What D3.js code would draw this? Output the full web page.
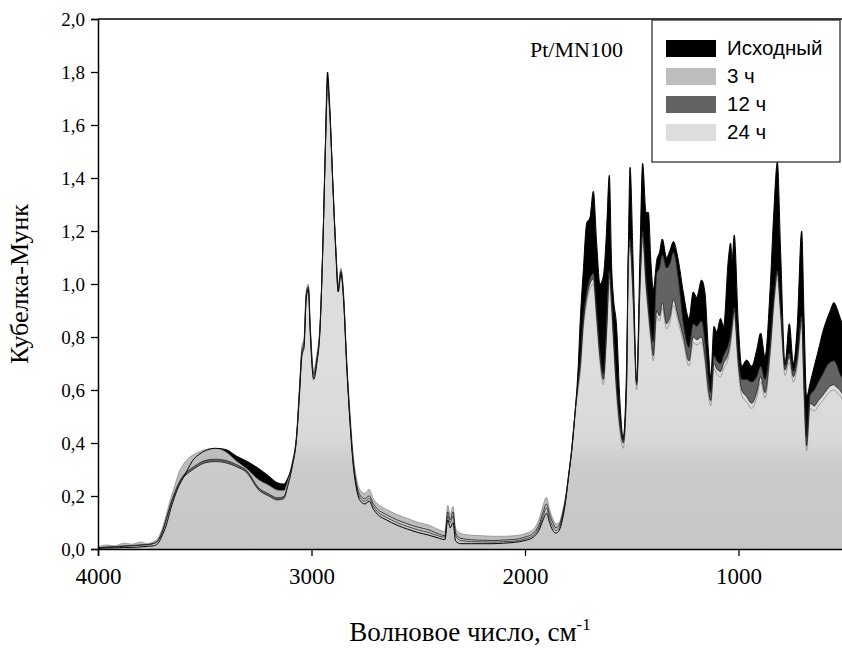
<!DOCTYPE html>
<html>
<head>
<meta charset="utf-8">
<script src="https://d3js.org/d3.v7.min.js"></script>
<style>
  body { margin: 0; background: #fff; }
  svg { display: block; }
</style>
</head>
<body>
<script>
// волновое число, см-1 (общая сетка для всех спектров)
var wavenumber = [
  4000, 3960, 3920, 3880, 3840, 3800, 3770, 3740, 3720, 3700,
  3680, 3660, 3640, 3620, 3600, 3580, 3560, 3530, 3500, 3450,
  3400, 3350, 3300, 3250, 3200, 3160, 3130, 3110, 3090, 3070,
  3055, 3045, 3035, 3025, 3015, 3005, 2990, 2975, 2960, 2945,
  2935, 2925, 2915, 2900, 2885, 2875, 2862, 2850, 2835, 2820,
  2805, 2790, 2770, 2750, 2730, 2710, 2690, 2650, 2600, 2550,
  2500, 2450, 2400, 2375, 2362, 2350, 2337, 2325, 2300, 2250,
  2200, 2150, 2100, 2050, 2000, 1960, 1935, 1915, 1900, 1885,
  1870, 1855, 1840, 1825, 1810, 1795, 1781, 1765, 1750, 1742,
  1727, 1711, 1696, 1680, 1664, 1649, 1633, 1618, 1605, 1594,
  1586, 1571, 1555, 1540, 1524, 1516, 1508, 1493, 1477, 1461,
  1449, 1433, 1422, 1410, 1399, 1383, 1370, 1357, 1337, 1320,
  1305, 1282, 1258, 1232, 1212, 1196, 1173, 1157, 1141, 1130,
  1115, 1102, 1084, 1070, 1048, 1037, 1030, 1020, 1001, 985,
  962, 938, 915, 896, 876, 852, 834, 818, 803, 782,
  762, 743, 725, 704, 693, 681, 665, 645, 626, 605,
  587, 570, 553, 540, 525, 510
];

// Исходный
var ishodny = [
  0.002, 0.004, 0.004, 0.006, 0.006, 0.008, 0.010, 0.012, 0.020, 0.050,
  0.090, 0.150, 0.200, 0.240, 0.270, 0.300, 0.330, 0.355, 0.370, 0.380,
  0.375, 0.350, 0.330, 0.305, 0.275, 0.250, 0.245, 0.270, 0.320, 0.420,
  0.600, 0.730, 0.760, 0.940, 0.980, 0.800, 0.640, 0.700, 0.830, 1.200,
  1.520, 1.800, 1.680, 1.380, 1.100, 0.970, 1.040, 0.940, 0.690, 0.480,
  0.320, 0.230, 0.180, 0.170, 0.180, 0.150, 0.130, 0.110, 0.090, 0.075,
  0.062, 0.052, 0.040, 0.035, 0.110, 0.080, 0.100, 0.030, 0.020, 0.020,
  0.020, 0.020, 0.022, 0.025, 0.032, 0.045, 0.070, 0.110, 0.135, 0.100,
  0.070, 0.060, 0.070, 0.110, 0.180, 0.280, 0.370, 0.520, 0.700, 0.850,
  1.050, 1.230, 1.250, 1.350, 1.150, 1.000, 1.030, 1.200, 1.410, 1.060,
  0.950, 0.840, 0.550, 0.420, 0.700, 1.130, 1.440, 1.065, 0.630, 1.130,
  1.455, 1.270, 1.270, 1.080, 0.980, 1.090, 1.120, 1.170, 1.100, 1.130,
  1.160, 1.090, 0.966, 0.870, 0.970, 0.950, 1.015, 0.966, 0.750, 0.650,
  0.840, 0.820, 0.870, 0.840, 1.090, 1.155, 1.090, 1.185, 0.850, 0.690,
  0.713, 0.690, 0.750, 0.815, 0.725, 0.980, 1.280, 1.460, 1.130, 0.700,
  0.850, 0.700, 0.840, 1.200, 0.875, 0.575, 0.625, 0.690, 0.750, 0.820,
  0.865, 0.900, 0.930, 0.910, 0.875, 0.840
];

// 3 ч
var h3 = [
  0.008, 0.015, 0.012, 0.022, 0.018, 0.026, 0.020, 0.028, 0.040, 0.075,
  0.130, 0.190, 0.240, 0.290, 0.320, 0.340, 0.352, 0.365, 0.375, 0.380,
  0.365, 0.330, 0.300, 0.262, 0.240, 0.222, 0.220, 0.258, 0.330, 0.435,
  0.635, 0.765, 0.795, 0.975, 1.000, 0.835, 0.675, 0.735, 0.855, 1.200,
  1.500, 1.720, 1.640, 1.370, 1.120, 1.000, 1.060, 0.970, 0.720, 0.520,
  0.360, 0.270, 0.220, 0.210, 0.225, 0.190, 0.170, 0.150, 0.130, 0.115,
  0.100, 0.090, 0.072, 0.066, 0.165, 0.130, 0.160, 0.078, 0.058, 0.052,
  0.050, 0.048, 0.048, 0.050, 0.058, 0.075, 0.110, 0.165, 0.195, 0.150,
  0.115, 0.095, 0.100, 0.140, 0.200, 0.290, 0.380, 0.510, 0.610, 0.660,
  0.830, 0.930, 0.980, 1.000, 0.855, 0.705, 0.620, 0.800, 1.010, 0.900,
  0.780, 0.580, 0.440, 0.380, 0.600, 1.080, 1.130, 0.920, 0.600, 0.980,
  1.165, 0.980, 0.880, 0.780, 0.710, 0.880, 0.860, 0.910, 0.830, 0.860,
  0.920, 0.855, 0.780, 0.690, 0.780, 0.770, 0.780, 0.705, 0.580, 0.540,
  0.680, 0.660, 0.650, 0.680, 0.720, 0.770, 0.820, 0.880, 0.680, 0.580,
  0.555, 0.530, 0.570, 0.630, 0.570, 0.730, 0.920, 1.020, 0.880, 0.655,
  0.705, 0.630, 0.690, 0.845, 0.580, 0.370, 0.530, 0.520, 0.540, 0.560,
  0.580, 0.595, 0.600, 0.590, 0.580, 0.560
];

// 12 ч
var h12 = [
  0.005, 0.008, 0.009, 0.012, 0.013, 0.016, 0.017, 0.022, 0.032, 0.065,
  0.115, 0.170, 0.215, 0.252, 0.278, 0.294, 0.306, 0.322, 0.334, 0.339,
  0.334, 0.318, 0.293, 0.233, 0.208, 0.193, 0.198, 0.245, 0.315, 0.425,
  0.610, 0.740, 0.770, 0.950, 0.985, 0.810, 0.650, 0.710, 0.835, 1.190,
  1.510, 1.760, 1.660, 1.370, 1.110, 0.975, 1.045, 0.950, 0.695, 0.490,
  0.330, 0.240, 0.190, 0.180, 0.190, 0.160, 0.140, 0.120, 0.100, 0.085,
  0.072, 0.062, 0.048, 0.045, 0.125, 0.100, 0.125, 0.050, 0.032, 0.028,
  0.027, 0.026, 0.028, 0.030, 0.038, 0.052, 0.080, 0.125, 0.155, 0.115,
  0.085, 0.070, 0.080, 0.120, 0.185, 0.280, 0.375, 0.520, 0.640, 0.700,
  0.870, 0.970, 1.020, 1.040, 0.895, 0.745, 0.660, 0.840, 1.050, 0.940,
  0.820, 0.620, 0.480, 0.410, 0.640, 1.120, 1.170, 0.960, 0.630, 1.020,
  1.200, 1.020, 0.920, 0.820, 0.780, 1.040, 1.060, 1.110, 1.060, 1.080,
  1.120, 1.020, 0.850, 0.760, 0.850, 0.840, 0.860, 0.780, 0.640, 0.590,
  0.730, 0.710, 0.700, 0.730, 0.770, 0.810, 0.850, 0.910, 0.720, 0.640,
  0.640, 0.630, 0.650, 0.690, 0.640, 0.770, 0.950, 1.050, 0.910, 0.690,
  0.740, 0.670, 0.730, 0.880, 0.620, 0.420, 0.580, 0.600, 0.630, 0.660,
  0.690, 0.705, 0.710, 0.695, 0.660, 0.640
];

// 24 ч
var h24 = [
  0.004, 0.006, 0.008, 0.010, 0.012, 0.014, 0.016, 0.020, 0.030, 0.060,
  0.110, 0.165, 0.210, 0.245, 0.270, 0.285, 0.297, 0.313, 0.325, 0.330,
  0.325, 0.310, 0.285, 0.225, 0.200, 0.185, 0.190, 0.240, 0.310, 0.420,
  0.620, 0.750, 0.780, 0.960, 0.990, 0.820, 0.660, 0.720, 0.840, 1.200,
  1.520, 1.750, 1.660, 1.380, 1.120, 0.980, 1.050, 0.960, 0.700, 0.500,
  0.340, 0.250, 0.200, 0.190, 0.200, 0.170, 0.150, 0.130, 0.110, 0.095,
  0.082, 0.072, 0.055, 0.050, 0.140, 0.110, 0.140, 0.060, 0.040, 0.035,
  0.033, 0.032, 0.034, 0.036, 0.045, 0.060, 0.090, 0.140, 0.170, 0.130,
  0.100, 0.080, 0.090, 0.130, 0.190, 0.280, 0.380, 0.520, 0.630, 0.680,
  0.850, 0.950, 1.000, 1.020, 0.875, 0.725, 0.640, 0.820, 1.030, 0.920,
  0.800, 0.600, 0.460, 0.400, 0.620, 1.100, 1.150, 0.940, 0.620, 1.000,
  1.185, 1.000, 0.900, 0.800, 0.730, 0.900, 0.880, 0.930, 0.850, 0.880,
  0.940, 0.875, 0.800, 0.710, 0.800, 0.790, 0.800, 0.725, 0.600, 0.560,
  0.700, 0.680, 0.670, 0.700, 0.740, 0.790, 0.840, 0.900, 0.700, 0.600,
  0.575, 0.550, 0.590, 0.650, 0.590, 0.750, 0.940, 1.040, 0.900, 0.675,
  0.725, 0.650, 0.710, 0.865, 0.600, 0.390, 0.550, 0.540, 0.560, 0.580,
  0.600, 0.615, 0.620, 0.610, 0.600, 0.580
];

var seriesNames = ["Исходный", "3 ч", "12 ч", "24 ч"];
var seriesValues = [ishodny, h3, h12, h24];
var seriesFill = ["#000000", "#bdbdbd", "#636363", "#dddddd"];
var seriesLine = ["#000000", "#8c8c8c", "#2a2a2a", "#1a1a1a"];

var xTicks = [4000, 3000, 2000, 1000];
var yTicks = [0, 0.2, 0.4, 0.6, 0.8, 1.0, 1.2, 1.4, 1.6, 1.8, 2.0];

var width = 842, height = 650;
var plotLeft = 98, plotTop = 19, plotBottom = 549;

var svg = d3.select("body").append("svg")
  .attr("width", width)
  .attr("height", height);

// шкалы: ось x перевёрнута
var x = d3.scaleLinear().domain([4000, 500]).range([plotLeft, plotLeft + 3500 * 0.2135]);
var y = d3.scaleLinear().domain([0, 2]).range([plotBottom, plotTop]);

var defs = svg.append("defs");
defs.append("clipPath").attr("id", "plotclip")
  .append("rect").attr("x", plotLeft).attr("y", plotTop)
  .attr("width", width - plotLeft).attr("height", plotBottom - plotTop);

// заливка 24 ч у основания темнее (полосы в оригинале)
var grad = defs.append("linearGradient").attr("id", "fill24")
  .attr("gradientUnits", "userSpaceOnUse")
  .attr("x1", 0).attr("x2", 0)
  .attr("y1", y(0)).attr("y2", y(0.7));
[[0, "#c6c6c6"], [0.45, "#cbcbcb"], [0.6, "#d9d9d9"], [1, "#dddddd"]].forEach(function(s) {
  grad.append("stop").attr("offset", s[0]).attr("stop-color", s[1]);
});

var plot = svg.append("g").attr("clip-path", "url(#plotclip)");

function rows(vals) {
  return wavenumber.map(function(w, i) { return { w: w, v: vals[i] }; });
}

var area = d3.area()
  .x(function(d) { return x(d.w); })
  .y0(y(0))
  .y1(function(d) { return y(d.v); })
  .curve(d3.curveMonotoneX);

var line = d3.line()
  .x(function(d) { return x(d.w); })
  .y(function(d) { return y(d.v); })
  .curve(d3.curveMonotoneX);

// заливки по порядку
seriesValues.forEach(function(vals, i) {
  plot.append("path")
    .datum(rows(vals))
    .attr("fill", i === 3 ? "url(#fill24)" : seriesFill[i])
    .attr("d", area);
});

// контуры поверх
[1, 2, 0, 3].forEach(function(i) {
  plot.append("path")
    .datum(rows(seriesValues[i]))
    .attr("fill", "none")
    .attr("stroke", seriesLine[i])
    .attr("stroke-width", i === 0 ? 1 : 0.8)
    .attr("d", line);
});

// оси
var yAxis = svg.append("g")
  .attr("transform", "translate(" + plotLeft + ",0)")
  .call(d3.axisLeft(y).tickValues(yTicks).tickSize(7).tickPadding(6)
    .tickFormat(function(d) { return d3.format(".1f")(d).replace(".", ","); }));
yAxis.selectAll("text").attr("font-family", "Liberation Serif").attr("font-size", 19).attr("fill", "#000");

var xAxis = svg.append("g")
  .attr("transform", "translate(0," + plotBottom + ")")
  .call(d3.axisBottom(x).tickValues(xTicks).tickSize(7).tickPadding(12).tickFormat(d3.format("d")));
xAxis.selectAll("text").attr("font-family", "Liberation Serif").attr("font-size", 23).attr("fill", "#000");

svg.selectAll(".domain").attr("stroke", "#000").attr("stroke-width", 1.5);
svg.selectAll(".tick line").attr("stroke", "#000").attr("stroke-width", 1.3);

// верхняя рамка
svg.append("line")
  .attr("x1", plotLeft).attr("x2", width)
  .attr("y1", plotTop).attr("y2", plotTop)
  .attr("stroke", "#000").attr("stroke-width", 1.5);

// подписи осей
svg.append("text")
  .attr("transform", "translate(28," + ((plotTop + plotBottom) / 2) + ") rotate(-90)")
  .attr("text-anchor", "middle")
  .attr("font-family", "Liberation Serif")
  .attr("font-size", 26)
  .text("Кубелка-Мунк");

var xl = svg.append("text")
  .attr("x", 470).attr("y", 641)
  .attr("text-anchor", "middle")
  .attr("font-family", "Liberation Serif")
  .attr("font-size", 27);
xl.append("tspan").text("Волновое число, см");
xl.append("tspan").attr("dy", -11).attr("font-size", 17).text("-1");

svg.append("text")
  .attr("x", 530).attr("y", 57)
  .attr("font-family", "Liberation Serif")
  .attr("font-size", 22)
  .text("Pt/MN100");

// легенда
var legend = svg.append("g");
legend.append("rect")
  .attr("x", 652).attr("y", 20).attr("width", 188).attr("height", 142)
  .attr("fill", "#fff").attr("stroke", "#222").attr("stroke-width", 1.2);

seriesNames.forEach(function(name, i) {
  var cy = 48 + i * 28;
  legend.append("rect")
    .attr("x", 666).attr("y", cy - 8).attr("width", 50).attr("height", 17)
    .attr("fill", seriesFill[i]);
  legend.append("text")
    .attr("x", 727).attr("y", cy + 7)
    .attr("font-family", "Liberation Sans")
    .attr("font-size", 20.5)
    .text(name);
});
</script>
</body>
</html>
